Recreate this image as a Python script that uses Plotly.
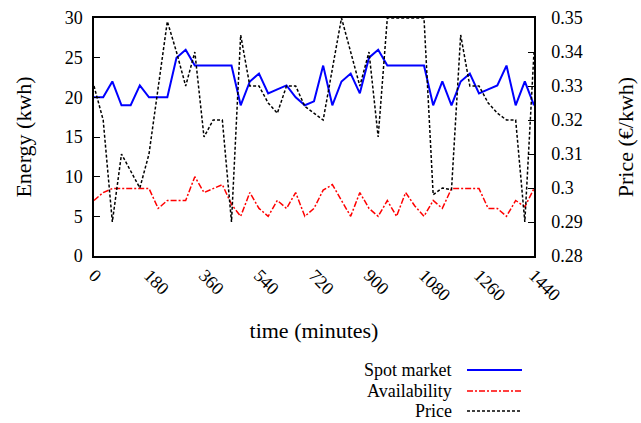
import plotly.graph_objects as go

time_min = [0, 30, 60, 90, 120, 150, 180, 210, 240, 270, 300, 330, 360, 390, 420, 450,
            480, 510, 540, 570, 600, 630, 660, 690, 720, 750, 780, 810, 840, 870, 900,
            930, 960, 990, 1020, 1050, 1080, 1110, 1140, 1170, 1200, 1230, 1260, 1290,
            1320, 1350, 1380, 1410, 1440]

spot_market = [20, 20, 22, 19, 19, 21.5, 20, 20, 20, 25, 26, 24, 24, 24, 24, 24,
               19, 22, 23, 20.5, 21, 21.5, 20, 19, 19.5, 24, 19, 22, 23, 20.5, 25,
               26, 24, 24, 24, 24, 24, 19, 22, 19, 22, 23, 20.5, 21, 21.5, 24, 19, 22, 19]

availability = [7, 8, 8.5, 8.5, 8.5, 8.5, 8.5, 6, 7, 7, 7, 10, 8, 8.5, 9, 6.5,
                5, 8, 6, 5, 7, 6, 8, 5, 6, 8.3, 9, 7, 5, 8, 6,
                5, 7, 5, 8, 6.3, 5, 7, 6, 8.5, 8.5, 8.5, 8.5, 6, 6, 5, 7, 6.2, 8.5]

price = [0.33, 0.32, 0.29, 0.31, 0.305, 0.30, 0.31, 0.33, 0.349, 0.34, 0.33, 0.34, 0.315,
         0.32, 0.32, 0.29, 0.345, 0.33, 0.33, 0.325, 0.322, 0.33, 0.33, 0.324, 0.322,
         0.32, 0.335, 0.35, 0.34, 0.33, 0.34, 0.315, 0.35, 0.35, 0.35, 0.35, 0.35,
         0.298, 0.30, 0.2995, 0.345, 0.33, 0.33, 0.325, 0.322, 0.32, 0.32, 0.29, 0.34]

x_ticks = [0, 180, 360, 540, 720, 900, 1080, 1260, 1440]
legend_names = ["Spot market", "Availability", "Price"]
colors = ["#0000ff", "#ff0000", "#000000"]
dashes = ["solid", "6px,2px,2px,2px", "3px,2px"]
widths = [2, 1.5, 1.5]

FONT = "Liberation Serif"
FS = 18

fig = go.Figure()
fig.add_trace(go.Scatter(x=time_min, y=spot_market, mode="lines", name=legend_names[0],
                         line=dict(color=colors[0], width=widths[0], dash=dashes[0])))
fig.add_trace(go.Scatter(x=time_min, y=availability, mode="lines", name=legend_names[1],
                         line=dict(color=colors[1], width=widths[1], dash=dashes[1])))
fig.add_trace(go.Scatter(x=time_min, y=price, mode="lines", name=legend_names[2], yaxis="y2",
                         line=dict(color=colors[2], width=widths[2], dash=dashes[2])))

# manual gnuplot-style legend: text right-aligned, sample line to the right
leg_y = [370, 391, 411]
for i, name in enumerate(legend_names):
    yp = 1 - (leg_y[i] - 18) / (256 - 18)
    fig.add_annotation(xref="paper", yref="paper", x=(454 - 94) / 440, y=yp,
                       text=name, showarrow=False, xanchor="right", yanchor="middle",
                       font=dict(family=FONT, size=FS, color="black"))
    fig.add_shape(type="line", xref="paper", yref="paper",
                  x0=(467 - 94) / 440, x1=(522 - 94) / 440, y0=yp, y1=yp,
                  line=dict(color=colors[i], width=widths[i], dash=dashes[i]))

fig.update_layout(
    width=641, height=423,
    margin=dict(l=94, r=107, t=18, b=167),
    paper_bgcolor="white", plot_bgcolor="white",
    showlegend=False,
    font=dict(family=FONT, size=FS, color="black"),
    xaxis=dict(range=[0, 1440], tickvals=x_ticks, tickangle=45, showgrid=False,
               zeroline=False, showline=True, linecolor="black", linewidth=1.5,
               mirror=True, ticks="", automargin=False,
               title=dict(text="time (minutes)", standoff=19),
               tickfont=dict(family=FONT, size=FS)),
    yaxis=dict(range=[0, 30], tickvals=[0, 5, 10, 15, 20, 25, 30], showgrid=False,
               zeroline=False, showline=True, linecolor="black", linewidth=1.5,
               ticks="inside", ticklen=6, tickcolor="black", automargin=False,
               ticklabelstandoff=6,
               title=dict(text="Energy (kwh)", standoff=27),
               tickfont=dict(family=FONT, size=FS)),
    yaxis2=dict(range=[0.28, 0.35], tickvals=[0.28, 0.29, 0.30, 0.31, 0.32, 0.33, 0.34, 0.35],
                overlaying="y", side="right", showgrid=False, zeroline=False,
                showline=True, linecolor="black", linewidth=1.5,
                ticks="inside", ticklen=6, tickcolor="black", automargin=False,
                ticklabelstandoff=12,
                title=dict(text="Price (€/kwh)", standoff=36),
                tickfont=dict(family=FONT, size=FS)),
)

fig.write_html("out.html", config={"displayModeBar": False},
               post_script="document.body.style.margin='0';document.body.style.padding='0';")
